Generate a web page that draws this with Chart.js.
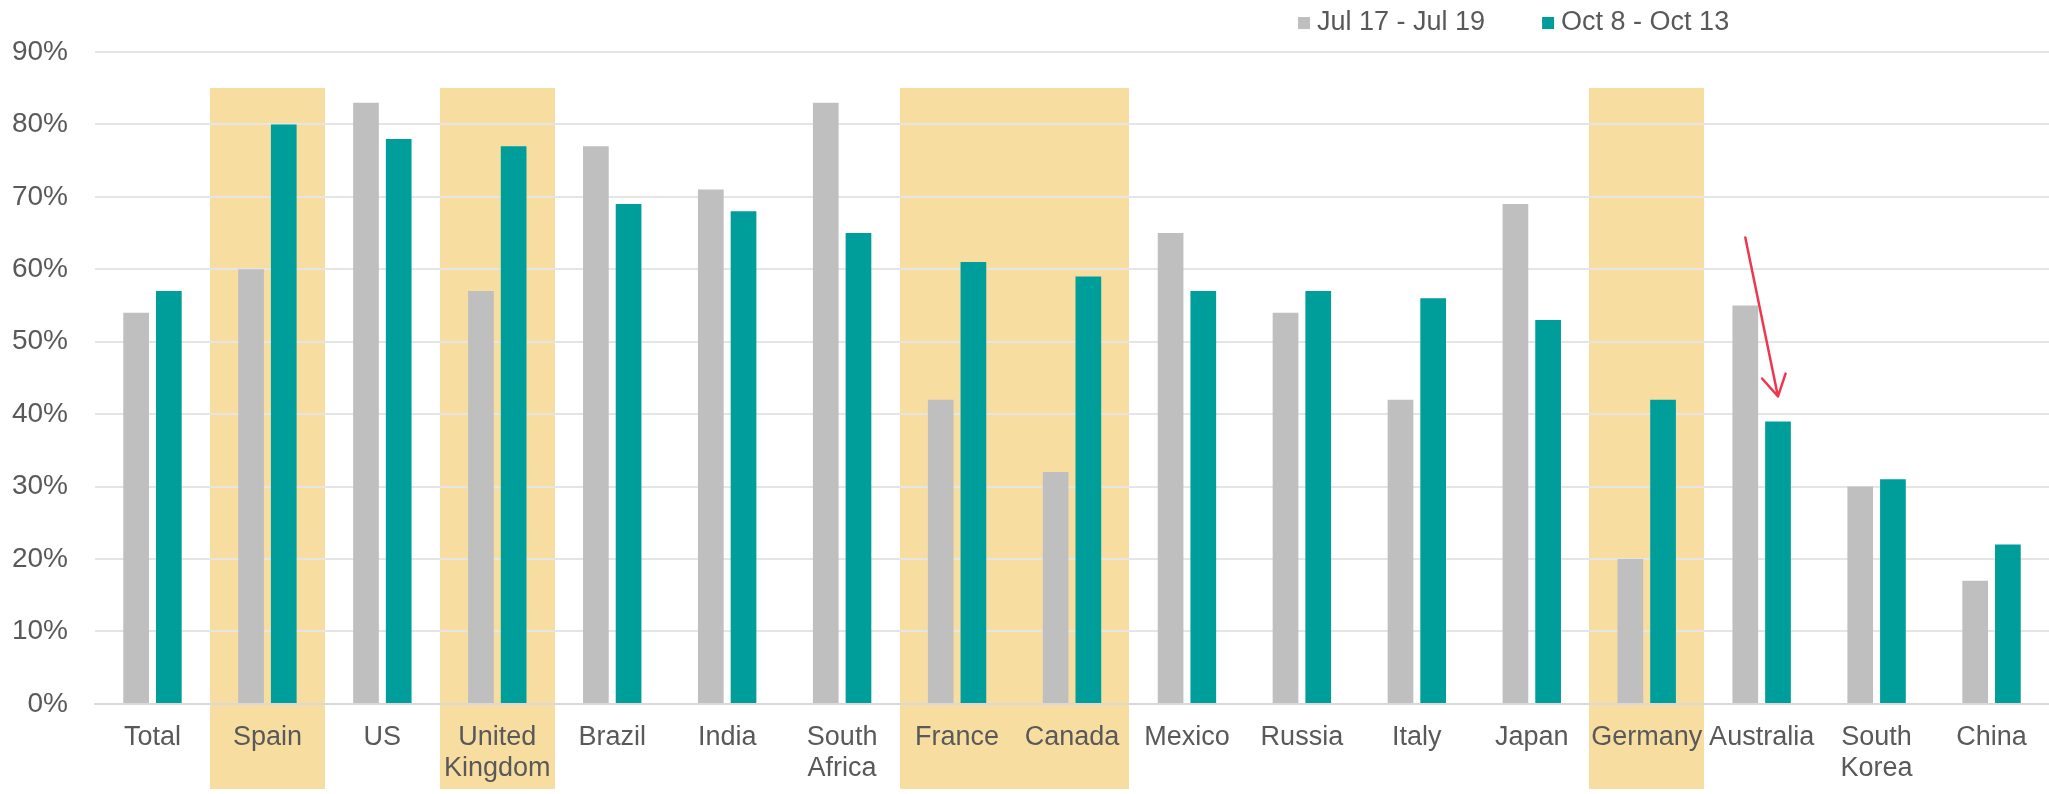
<!DOCTYPE html>
<html>
<head>
<meta charset="utf-8">
<script src="https://cdn.jsdelivr.net/npm/chart.js@4/dist/chart.umd.min.js"></script>
<style>
  html, body { margin: 0; padding: 0; background: #ffffff; }
  #wrap { width: 2049px; height: 794px; }
</style>
</head>
<body>
<div id="wrap"><canvas id="c" width="2049" height="794"></canvas></div>
<script>
// Categories along the x axis (multi-line names are split into arrays)
const categories = [
  'Total', 'Spain', 'US', ['United', 'Kingdom'], 'Brazil', 'India',
  ['South', 'Africa'], 'France', 'Canada', 'Mexico', 'Russia', 'Italy',
  'Japan', 'Germany', 'Australia', ['South', 'Korea'], 'China'
];

// Share of respondents, in percent
const julySeries = [54, 60, 83, 57, 77, 71, 83, 42, 32, 65, 54, 42, 69, 20, 55, 30, 17];
const octoberSeries = [57, 80, 78, 77, 69, 68, 65, 61, 59, 57, 57, 56, 53, 42, 39, 31, 22];

const seriesNames = ['Jul 17 - Jul 19', 'Oct 8 - Oct 13'];

// Y axis tick values
const yTicks = [0, 10, 20, 30, 40, 50, 60, 70, 80, 90];

// Categories shaded as a group
const highlighted = ['Spain', 'United Kingdom', 'France', 'Canada', 'Germany'];
// Category whose change is pointed out with an arrow
const arrowCategory = 'Australia';

const GREY = '#BFBFBF';
const TEAL = '#009E9A';
const SHADE = '#F8DDA1';
const TEXT = '#595959';
const FONT = "'Liberation Sans', Arial, sans-serif";

const catName = c => Array.isArray(c) ? c.join(' ') : c;

// Shaded columns behind the highlighted categories, painted before the grid.
// Neighbouring shaded categories are merged into one block.
const shadePlugin = {
  id: 'shade',
  beforeDraw(chart) {
    const { ctx } = chart;
    const x = chart.scales.x;
    const y = chart.scales.y;
    const step = x.width / categories.length;
    const top = Math.round(y.getPixelForValue(85));
    const bottom = chart.height - 5;
    const runs = [];
    categories.forEach((c, i) => {
      if (!highlighted.includes(catName(c))) return;
      const last = runs[runs.length - 1];
      if (last && last[1] === i - 1) last[1] = i;
      else runs.push([i, i]);
    });
    ctx.save();
    ctx.fillStyle = SHADE;
    runs.forEach(([a, b]) => {
      const left = Math.round(x.getPixelForValue(a) - step / 2);
      const right = Math.round(x.getPixelForValue(b) + step / 2);
      ctx.fillRect(left, top, right - left, bottom - top);
    });
    ctx.restore();
  }
};

// Legend drawn at the top right, and the red arrow over the Australia bars
const overlayPlugin = {
  id: 'overlay',
  afterDraw(chart) {
    const { ctx } = chart;
    ctx.save();
    // legend
    ctx.font = '27px ' + FONT;
    ctx.textBaseline = 'middle';
    let lx = 1298;
    const ly = 23;
    chart.data.datasets.forEach((ds) => {
      ctx.fillStyle = ds.backgroundColor;
      ctx.fillRect(lx, ly - 6, 12, 12);
      ctx.fillStyle = TEXT;
      ctx.fillText(ds.label, lx + 19, ly);
      lx += 19 + ctx.measureText(ds.label).width + 57;
    });

    // arrow from above the July bar down to the October bar
    const idx = categories.findIndex(c => catName(c) === arrowCategory);
    const a = chart.getDatasetMeta(0).data[idx];
    const b = chart.getDatasetMeta(1).data[idx];
    const x0 = a.x, y0 = a.y - 68;
    const x1 = b.x, y1 = b.y - 25;
    ctx.strokeStyle = '#F0364E';
    ctx.lineWidth = 2.5;
    ctx.lineCap = 'round';
    ctx.lineJoin = 'round';
    ctx.beginPath();
    ctx.moveTo(x0, y0);
    ctx.lineTo(x1, y1);
    const ang = Math.atan2(y0 - y1, x0 - x1);
    const wing = 24, spread = 30 * Math.PI / 180;
    ctx.moveTo(x1 + wing * Math.cos(ang - spread), y1 + wing * Math.sin(ang - spread));
    ctx.lineTo(x1, y1);
    ctx.lineTo(x1 + wing * Math.cos(ang + spread), y1 + wing * Math.sin(ang + spread));
    ctx.stroke();
    ctx.restore();
  }
};

new Chart(document.getElementById('c'), {
  type: 'bar',
  data: {
    labels: categories,
    datasets: [
      { label: seriesNames[0], data: julySeries, backgroundColor: GREY },
      { label: seriesNames[1], data: octoberSeries, backgroundColor: TEAL }
    ]
  },
  options: {
    responsive: false,
    animation: false,
    devicePixelRatio: 1,
    categoryPercentage: 0.569,
    barPercentage: 0.786,
    layout: { padding: { top: 52, right: 0, bottom: 0, left: 0 } },
    plugins: {
      legend: { display: false },
      tooltip: { enabled: false }
    },
    scales: {
      x: {
        grid: { display: false },
        border: { display: true, color: '#D9D9D9', width: 2 },
        ticks: {
          color: TEXT,
          font: { family: FONT, size: 27, lineHeight: 1.15 },
          padding: 10,
          autoSkip: false,
          maxRotation: 0
        }
      },
      y: {
        min: 0,
        max: 90,
        afterFit(scale) { scale.width = 95; },
        afterBuildTicks(scale) { scale.ticks = yTicks.map(v => ({ value: v })); },
        grid: { color: '#E5E5E5', lineWidth: 2, drawTicks: false },
        border: { display: false },
        ticks: {
          color: TEXT,
          font: { family: FONT, size: 28 },
          padding: 27,
          callback: v => v + '%'
        }
      }
    }
  },
  plugins: [shadePlugin, overlayPlugin]
});
</script>
</body>
</html>
